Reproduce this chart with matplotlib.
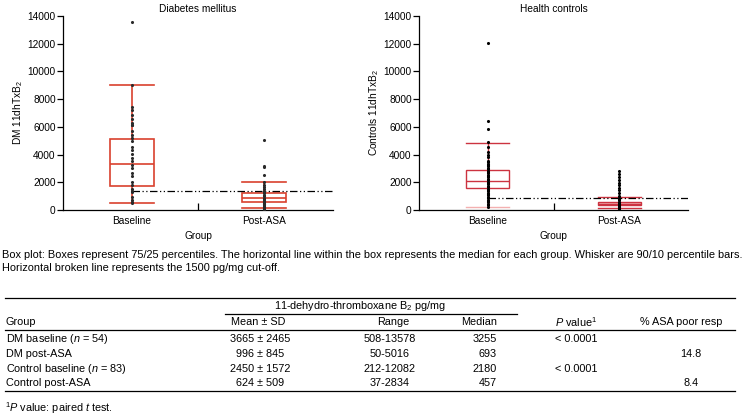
# Box plots of 11-dehydro-thromboxane B2 (diabetes vs controls) plus summary table
import matplotlib.pyplot as plt

plt.rcParams['font.family'] = ['Liberation Sans', 'DejaVu Sans']
plt.rcParams['mathtext.fontset'] = 'custom'
plt.rcParams['mathtext.rm'] = 'Liberation Sans'
plt.rcParams['mathtext.it'] = 'Liberation Sans:italic'
plt.rcParams['font.size'] = 7.3

# ---- data ----
groups = ["Baseline", "Post-ASA"]

# DM boxes: 10/25/50/75/90 percentiles
dm_whislo = [500, 120]
dm_q1 = [1750, 600]
dm_med = [3300, 850]
dm_q3 = [5150, 1200]
dm_whishi = [9000, 2050]

# control boxes
ctrl_whislo = [200, 120]
ctrl_q1 = [1600, 360]
ctrl_med = [2100, 460]
ctrl_q3 = [2900, 600]
ctrl_whishi = [4850, 960]

# cut-off broken line as drawn
dm_cut = 1400
ctrl_cut = 900

# individual values (visible dots)
dm_base_pts = [13578, 9000, 7450, 7250, 6850, 6550, 6250, 6150, 6100, 5700, 5400,
               5200, 4950, 4550, 4300, 4050, 3750, 3500, 3250, 3000, 2700, 2450,
               2050, 1800, 1500, 1350, 1300, 950, 750, 600, 508]
dm_post_pts = [5016, 3200, 3100, 2500, 2000, 1800, 1650, 1500, 1400, 1300, 1200, 1100,
               1000, 900, 800, 700, 650, 600, 550, 500, 450, 400, 350, 300, 250, 200,
               150, 100, 50]
ctrl_base_pts = [12082, 6450, 5850, 4900, 4550, 4200, 3950, 3800, 3550, 3450, 3350,
                 3250, 3150, 3050, 2950, 2850, 2750, 2650, 2550, 2450, 2350, 2250,
                 2150, 2050, 1950, 1850, 1750, 1650, 1550, 1450, 1350, 1250, 1150,
                 1050, 950, 850, 750, 650, 550, 450, 350, 212]
ctrl_post_pts = [2834, 2620, 2400, 2160, 1970, 1800, 1600, 1440, 1250, 1000, 900, 800,
                 700, 600, 500, 450, 400, 350, 300, 250, 200, 150, 100, 37]

# table
tbl_groups = ["DM baseline ($n$ = 54)", "DM post-ASA",
              "Control baseline ($n$ = 83)", "Control post-ASA"]
tbl_mean_sd = ["3665 ± 2465", "996 ± 845", "2450 ± 1572", "624 ± 509"]
tbl_range = ["508-13578", "50-5016", "212-12082", "37-2834"]
tbl_median = ["3255", "693", "2180", "457"]
tbl_p = ["< 0.0001", "", "< 0.0001", ""]
tbl_poor = ["", "14.8", "", "8.4"]

caption1 = ("Box plot: Boxes represent 75/25 percentiles. The horizontal line within the box "
            "represents the median for each group. Whisker are 90/10 percentile bars.")
caption2 = "Horizontal broken line represents the 1500 pg/mg cut-off."

W, H = 752, 419
fig = plt.figure(figsize=(W / 100, H / 100), dpi=100)


def make_stats(lo, q1, med, q3, hi):
    return [dict(whislo=lo[i], q1=q1[i], med=med[i], q3=q3[i], whishi=hi[i], label=groups[i])
            for i in range(len(groups))]


def draw_panel(rect, stats, pts, cut, color, title, ylabel, dotcolor):
    ax = fig.add_axes(rect)
    lp = dict(color=color, lw=1.2)
    res = ax.bxp(stats, positions=[0, 1], widths=0.33, capwidths=0.33, showfliers=False,
                 patch_artist=True,
                 boxprops=dict(facecolor='none', edgecolor=color, lw=1.2),
                 whiskerprops=lp, capprops=lp, medianprops=lp)
    for i, vals in enumerate(pts):
        ax.scatter([i] * len(vals), vals, s=5, c=dotcolor, linewidths=0, zorder=4)
    ax.hlines(cut, 0, 1.52, colors='black', lw=0.9,
              linestyles=(0, (6, 2, 1, 2, 1, 2)), zorder=3)
    ax.set_xlim(-0.52, 1.52)
    ax.set_ylim(0, 14000)
    ax.set_yticks(range(0, 14001, 2000))
    ax.set_xticks([0, 1], groups)
    ax.set_xticks([0.5], minor=True)
    ax.tick_params(axis='x', which='major', length=0, pad=4)
    ax.tick_params(axis='x', which='minor', direction='in', length=5, width=0.9)
    ax.tick_params(axis='y', direction='out', length=4.3, width=0.9, pad=1)
    for s in ['top', 'right']:
        ax.spines[s].set_visible(False)
    for s in ['left', 'bottom']:
        ax.spines[s].set_linewidth(0.9)
    ax.set_title(title, fontsize=7.3, pad=3)
    ax.set_xlabel("Group", labelpad=4)
    ax.set_ylabel(ylabel, labelpad=2)
    return ax, res


ax1, r1 = draw_panel([63 / W, 1 - 210 / H, 270 / W, 194 / H],
                     make_stats(dm_whislo, dm_q1, dm_med, dm_q3, dm_whishi),
                     [dm_base_pts, dm_post_pts], dm_cut, '#d9412e',
                     "Diabetes mellitus", "DM 11dhTxB$_2$", '#2a2a2a')
ax2, r2 = draw_panel([419 / W, 1 - 210 / H, 269 / W, 194 / H],
                     make_stats(ctrl_whislo, ctrl_q1, ctrl_med, ctrl_q3, ctrl_whishi),
                     [ctrl_base_pts, ctrl_post_pts], ctrl_cut, '#cc3340',
                     "Health controls", "Controls 11dhTxB$_2$", 'black')
r2['boxes'][1].set_facecolor('#f2b4b4')
r2['caps'][0].set_color('#f3b0b0')
for art in r2['boxes'] + r2['whiskers'] + r2['caps'] + r2['medians']:
    art.set_linewidth(1.0)

# overlay in pixel units for caption and table
ax_t = fig.add_axes([0, 0, 1, 1])
ax_t.set_xlim(0, W)
ax_t.set_ylim(H, 0)
ax_t.axis('off')

cap_fs = 7.9
ax_t.text(2, 255, caption1, va='center', ha='left', fontsize=cap_fs)
ax_t.text(2, 268, caption2, va='center', ha='left', fontsize=cap_fs)

fs = 7.8
lw = 0.9
ax_t.plot([5, 735], [298, 298], color='black', lw=lw)
ax_t.plot([225, 517], [314, 314], color='black', lw=lw)
ax_t.plot([5, 735], [330, 330], color='black', lw=lw)
ax_t.plot([5, 735], [391, 391], color='black', lw=lw)

ax_t.text(360, 306, "11-dehydro-thromboxane B$_2$ pg/mg", ha='center', va='center', fontsize=fs)
hy = 322
ax_t.text(6, hy, "Group", ha='left', va='center', fontsize=fs)
ax_t.text(258, hy, "Mean ± SD", ha='center', va='center', fontsize=fs)
ax_t.text(393, hy, "Range", ha='center', va='center', fontsize=fs)
ax_t.text(497, hy, "Median", ha='right', va='center', fontsize=fs)
ax_t.text(576, hy, "$P$ value$^1$", ha='center', va='center', fontsize=fs)
ax_t.text(681, hy, "% ASA poor resp", ha='center', va='center', fontsize=fs)

row_y = [339, 354, 369, 383]
for i, y in enumerate(row_y):
    ax_t.text(6, y, tbl_groups[i], ha='left', va='center', fontsize=fs)
    ax_t.text(260, y, tbl_mean_sd[i], ha='center', va='center', fontsize=fs)
    ax_t.text(390, y, tbl_range[i], ha='center', va='center', fontsize=fs)
    ax_t.text(497, y, tbl_median[i], ha='right', va='center', fontsize=fs)
    ax_t.text(576, y, tbl_p[i], ha='center', va='center', fontsize=fs)
    ax_t.text(691, y, tbl_poor[i], ha='center', va='center', fontsize=fs)

ax_t.text(5, 408, "$^1P$ value: paired $t$ test.", ha='left', va='center', fontsize=fs)

fig.savefig("out.png", dpi=100)
